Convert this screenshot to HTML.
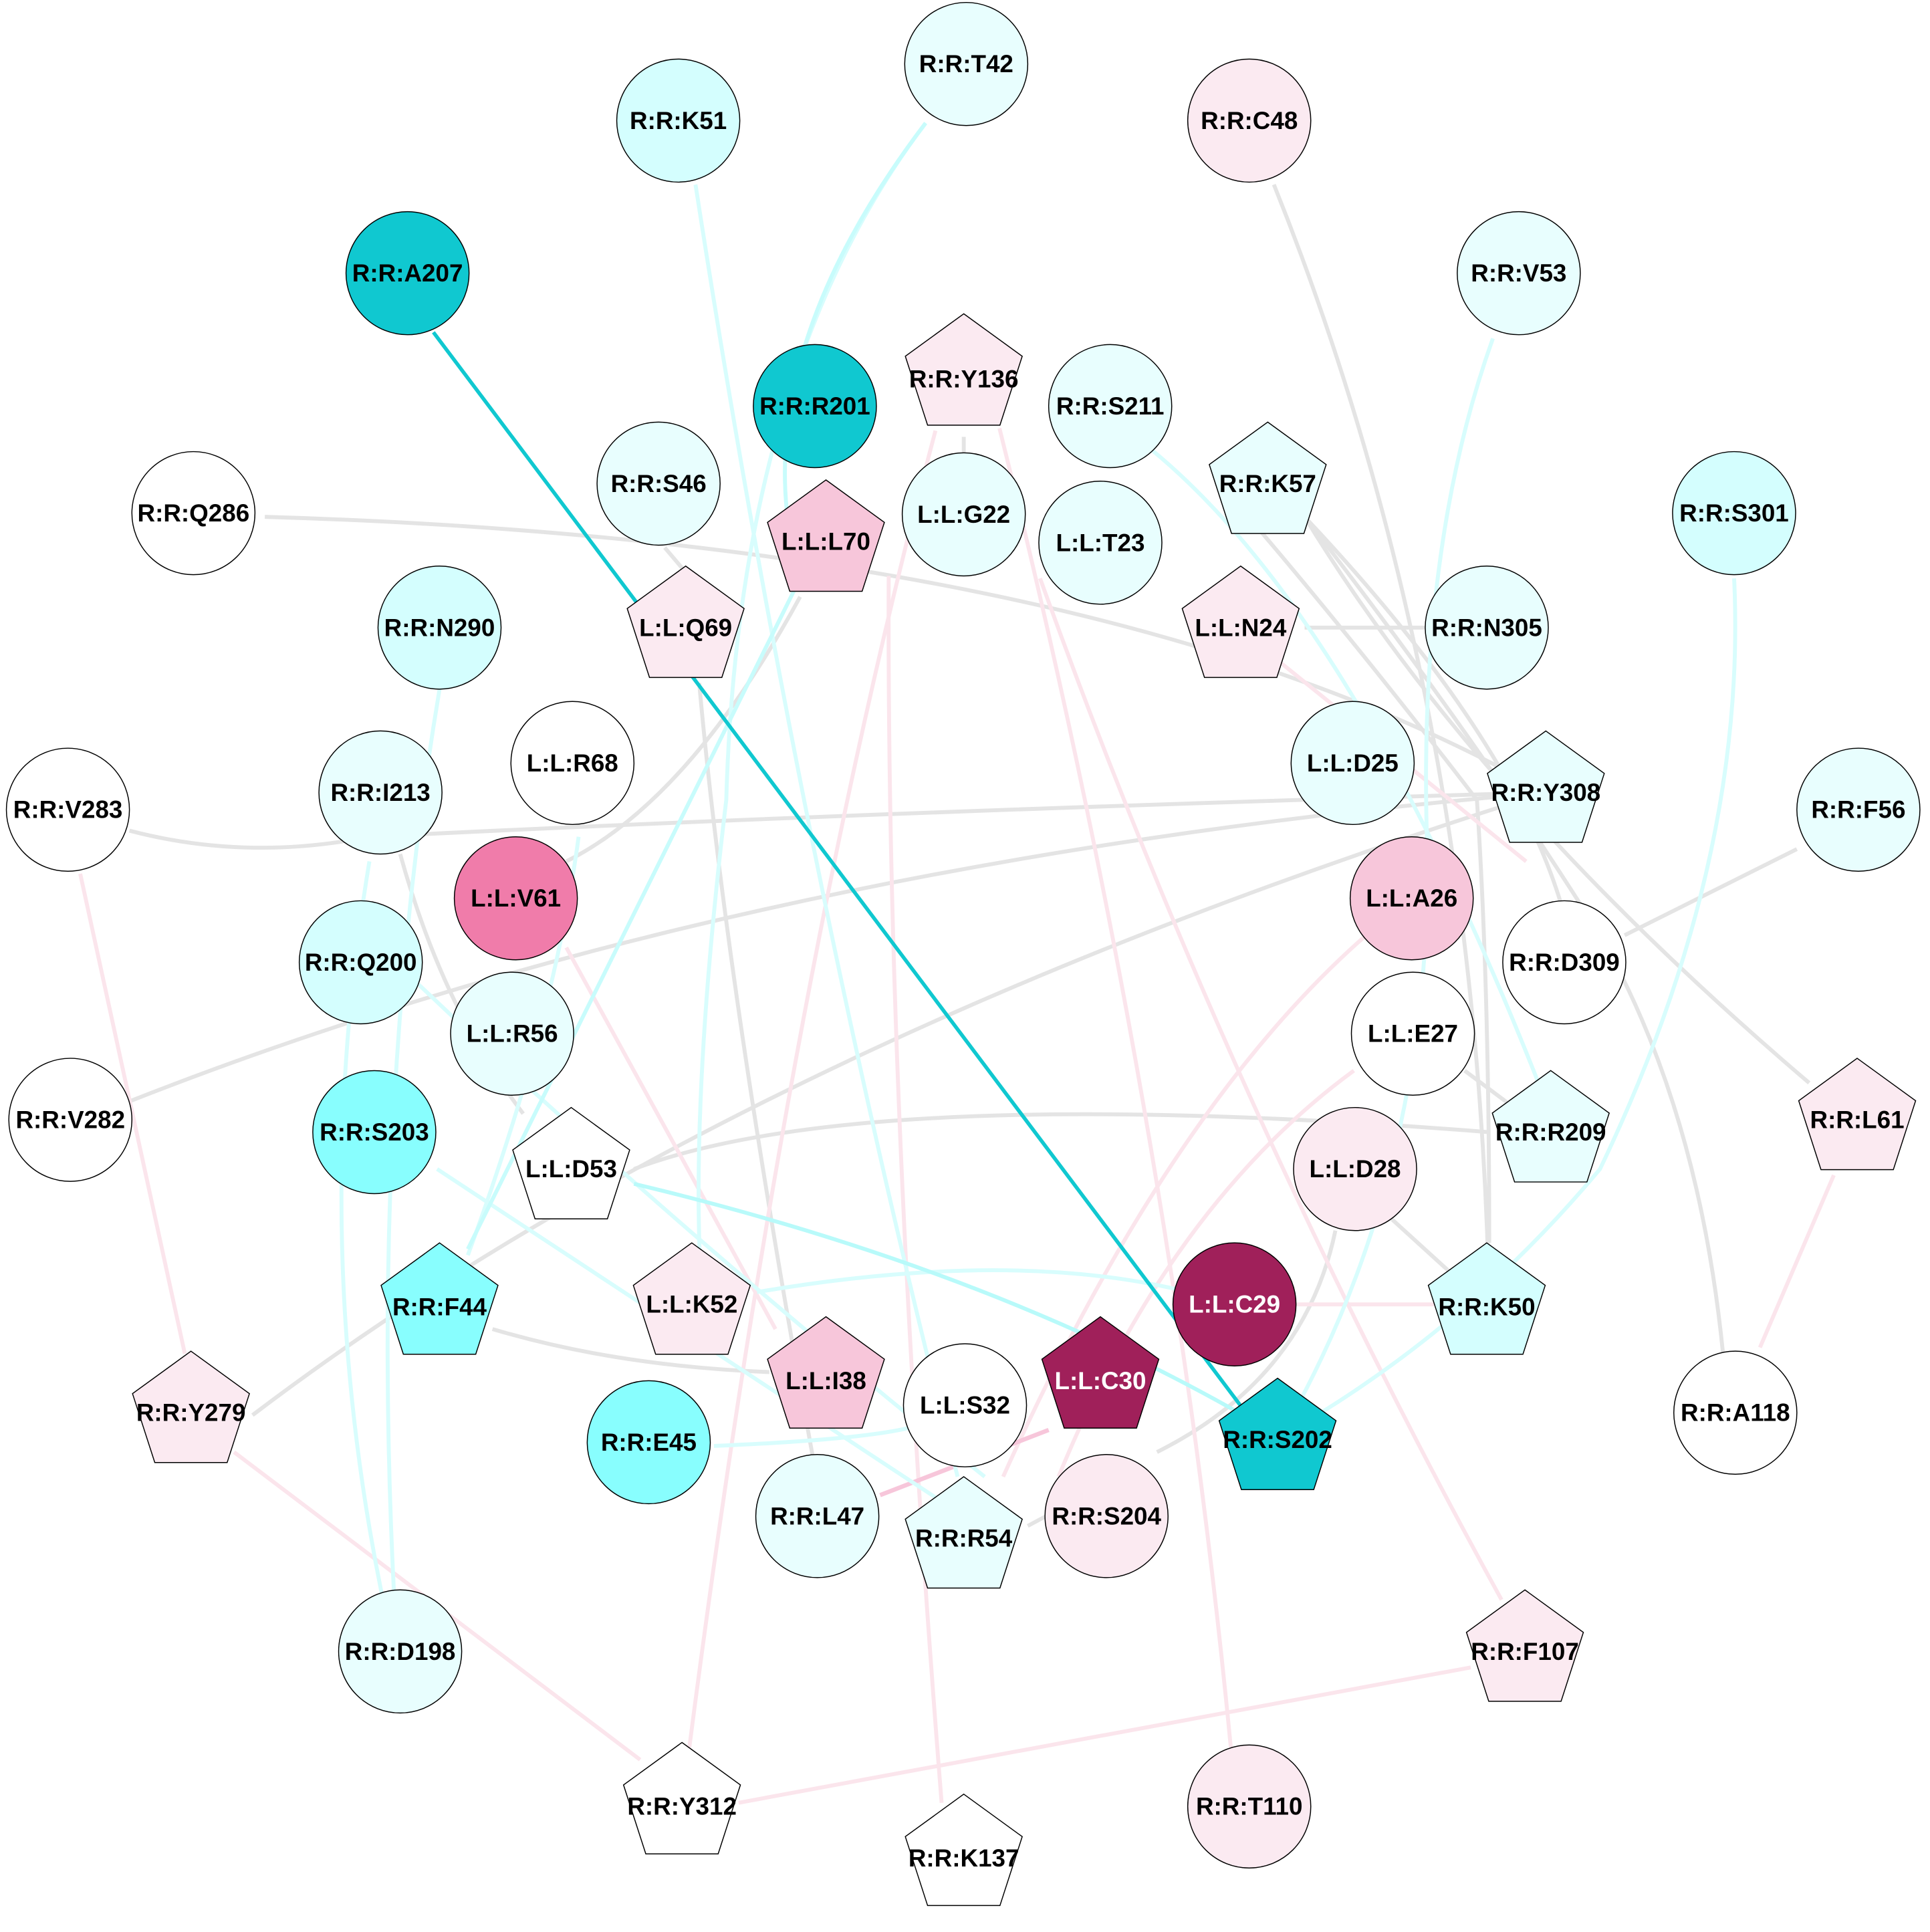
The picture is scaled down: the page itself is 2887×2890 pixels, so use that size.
<!DOCTYPE html>
<html><head><meta charset="utf-8"><style>html,body{margin:0;padding:0;background:#fff}svg{display:block}</style></head>
<body>
<svg width="2887" height="2890" viewBox="0 0 1568 1570" xmlns="http://www.w3.org/2000/svg">
<defs>
<g id="pent"><polygon points="0,-50 47.5,-15.5 29.4,40.5 -29.4,40.5 -47.5,-15.5" stroke="#000" stroke-width="0.8"/></g>
</defs>
<g fill="none" stroke-width="3.2">
<!-- gray edges -->
<g stroke="#e4e4e4">
<path d="M215,420 Q900,440 1256,644"/>
<path d="M105,675 Q200,700 300,680 Q700,660 1256,644"/>
<path d="M105,895 Q600,700 1256,644"/>
<path d="M205,1150 Q600,850 1256,644"/>
<path d="M1035,150 Q1200,560 1210,1060"/>
<path d="M1060,420 Q1200,600 1300,760 Q1380,900 1400,1100"/>
<path d="M1060,420 Q1230,600 1270,740"/>
<path d="M1060,420 Q1200,650 1470,880"/>
<path d="M1060,510 L1160,510"/>
<path d="M1460,690 L1320,760"/>
<path d="M515,950 Q700,880 1210,920"/>
<path d="M1190,870 L1230,900"/>
<path d="M1130,990 L1185,1040"/>
<path d="M1010,415 Q1100,520 1200,650 Q1210,800 1210,1010"/>
<path d="M400,1080 Q500,1110 625,1115"/>
<path d="M568,555 Q590,800 660,1182"/>
<path d="M540,445 L557,465"/>
<path d="M650,485 Q560,650 460,700"/>
<path d="M783,355 L783,368"/>
<path d="M325,694 Q360,820 425,905"/>
<path d="M1085,1000 Q1060,1120 940,1180"/>
<path d="M835,1240 L850,1232"/>
</g>
<!-- pink edges -->
<g stroke="#fbe5ec">
<path d="M760,350 Q640,800 560,1420"/>
<path d="M722,468 Q720,900 765,1465"/>
<path d="M812,348 Q950,900 1000,1420"/>
<path d="M845,470 Q1000,900 1220,1300"/>
<path d="M1030,530 L1240,700"/>
<path d="M460,770 L630,1080"/>
<path d="M65,710 L150,1100"/>
<path d="M190,1180 L520,1430"/>
<path d="M600,1465 L1195,1355"/>
<path d="M1490,955 L1430,1095"/>
<path d="M1110,760 Q950,900 815,1200"/>
<path d="M1050,1060 L1165,1060"/>
<path d="M1100,870 Q950,980 860,1200"/>
</g>
<path d="M852,1162 L715,1215" stroke="#f7c6da" stroke-width="3.5"/>
<!-- light cyan edges -->
<g stroke="#d8fdfd">
<path d="M752,100 Q600,300 590,650 Q560,900 570,1050"/>
<path d="M565,150 Q650,700 778,1200"/>
<path d="M1213,275 Q1150,450 1160,700 Q1160,950 1050,1150"/>
<path d="M1409,470 Q1420,700 1300,950 Q1200,1070 1070,1150"/>
<path d="M357,560 Q300,900 320,1295"/>
<path d="M300,700 Q250,1000 310,1295"/>
<path d="M470,680 Q450,830 380,1020"/>
<path d="M355,950 L780,1230"/>
<path d="M340,800 Q550,1000 800,1200"/>
<path d="M580,1175 Q700,1170 740,1160"/>
<path d="M615,1050 Q850,1010 1000,1060"/>
<path d="M935,365 Q1100,500 1250,880"/>
</g>
<path d="M515,962 Q800,1030 1010,1150" stroke="#b8fafa"/>
<path d="M752,100 Q600,300 650,470 Q560,650 380,1015" stroke="#c8fcfc"/>
<path d="M352,270 L1010,1145" stroke="#10c8d0" stroke-width="3"/>
</g>
<g stroke="#000" stroke-width="0.8">
<circle cx="785" cy="52" r="50" fill="#e8fefe"/>
<circle cx="551" cy="98" r="50" fill="#d4fefe"/>
<circle cx="1015" cy="98" r="50" fill="#fbeaf1"/>
<circle cx="331" cy="222" r="50" fill="#10c8d0"/>
<circle cx="1234" cy="222" r="50" fill="#e8fefe"/>
<circle cx="662" cy="330" r="50" fill="#10c8d0"/>
<circle cx="902" cy="330" r="50" fill="#e8fefe"/>
<circle cx="535" cy="393" r="50" fill="#e8fefe"/>
<circle cx="157" cy="417" r="50" fill="#fff"/>
<circle cx="783" cy="418" r="50" fill="#e8fefe"/>
<circle cx="894" cy="441" r="50" fill="#e8fefe"/>
<circle cx="1409" cy="417" r="50" fill="#d4fefe"/>
<circle cx="357" cy="510" r="50" fill="#d4fefe"/>
<circle cx="1208" cy="510" r="50" fill="#e8fefe"/>
<circle cx="465" cy="620" r="50" fill="#fff"/>
<circle cx="309" cy="644" r="50" fill="#e8fefe"/>
<circle cx="1099" cy="620" r="50" fill="#e8fefe"/>
<circle cx="55" cy="658" r="50" fill="#fff"/>
<circle cx="1510" cy="658" r="50" fill="#e8fefe"/>
<circle cx="419" cy="730" r="50" fill="#f07caa"/>
<circle cx="1147" cy="730" r="50" fill="#f7c6da"/>
<circle cx="293" cy="782" r="50" fill="#d4fefe"/>
<circle cx="1271" cy="782" r="50" fill="#fff"/>
<circle cx="416" cy="840" r="50" fill="#e8fefe"/>
<circle cx="1148" cy="840" r="50" fill="#fff"/>
<circle cx="57" cy="910" r="50" fill="#fff"/>
<circle cx="304" cy="920" r="50" fill="#88fefe"/>
<circle cx="1101" cy="950" r="50" fill="#fbeaf1"/>
<circle cx="1003" cy="1060" r="50" fill="#a0205a"/>
<circle cx="784" cy="1142" r="50" fill="#fff"/>
<circle cx="527" cy="1172" r="50" fill="#88fefe"/>
<circle cx="1410" cy="1148" r="50" fill="#fff"/>
<circle cx="664" cy="1232" r="50" fill="#e8fefe"/>
<circle cx="899" cy="1232" r="50" fill="#fbeaf1"/>
<circle cx="325" cy="1342" r="50" fill="#e8fefe"/>
<circle cx="1015" cy="1468" r="50" fill="#fbeaf1"/>
</g>
<use href="#pent" x="783" y="305" fill="#fbeaf1"/>
<use href="#pent" x="1030" y="393" fill="#e8fefe"/>
<use href="#pent" x="671" y="440" fill="#f7c6da"/>
<use href="#pent" x="557" y="510" fill="#fbeaf1"/>
<use href="#pent" x="1008" y="510" fill="#fbeaf1"/>
<use href="#pent" x="1256" y="644" fill="#e8fefe"/>
<use href="#pent" x="464" y="950" fill="#fff"/>
<use href="#pent" x="1260" y="920" fill="#e8fefe"/>
<use href="#pent" x="1509" y="910" fill="#fbeaf1"/>
<use href="#pent" x="357" y="1060" fill="#88fefe"/>
<use href="#pent" x="562" y="1060" fill="#fbeaf1"/>
<use href="#pent" x="1208" y="1060" fill="#d4fefe"/>
<use href="#pent" x="671" y="1120" fill="#f7c6da"/>
<use href="#pent" x="894" y="1120" fill="#a0205a"/>
<use href="#pent" x="155" y="1148" fill="#fbeaf1"/>
<use href="#pent" x="1038" y="1170" fill="#10c8d0"/>
<use href="#pent" x="783" y="1250" fill="#e8fefe"/>
<use href="#pent" x="1239" y="1342" fill="#fbeaf1"/>
<use href="#pent" x="554" y="1466" fill="#fff"/>
<use href="#pent" x="783" y="1508" fill="#fff"/>
<g font-family="Liberation Sans, sans-serif" font-weight="bold" font-size="20" text-anchor="middle" dominant-baseline="central" fill="#000">
<text x="785" y="52">R:R:T42</text>
<text x="551" y="98">R:R:K51</text>
<text x="1015" y="98">R:R:C48</text>
<text x="331" y="222">R:R:A207</text>
<text x="1234" y="222">R:R:V53</text>
<text x="662" y="330">R:R:R201</text>
<text x="902" y="330">R:R:S211</text>
<text x="535" y="393">R:R:S46</text>
<text x="157" y="417">R:R:Q286</text>
<text x="783" y="418">L:L:G22</text>
<text x="894" y="441">L:L:T23</text>
<text x="1409" y="417">R:R:S301</text>
<text x="357" y="510">R:R:N290</text>
<text x="1208" y="510">R:R:N305</text>
<text x="465" y="620">L:L:R68</text>
<text x="309" y="644">R:R:I213</text>
<text x="1099" y="620">L:L:D25</text>
<text x="55" y="658">R:R:V283</text>
<text x="1510" y="658">R:R:F56</text>
<text x="419" y="730">L:L:V61</text>
<text x="1147" y="730">L:L:A26</text>
<text x="293" y="782">R:R:Q200</text>
<text x="1271" y="782">R:R:D309</text>
<text x="416" y="840">L:L:R56</text>
<text x="1148" y="840">L:L:E27</text>
<text x="57" y="910">R:R:V282</text>
<text x="304" y="920">R:R:S203</text>
<text x="1101" y="950">L:L:D28</text>
<text x="1003" y="1060" fill="#fff">L:L:C29</text>
<text x="784" y="1142">L:L:S32</text>
<text x="527" y="1172">R:R:E45</text>
<text x="1410" y="1148">R:R:A118</text>
<text x="664" y="1232">R:R:L47</text>
<text x="899" y="1232">R:R:S204</text>
<text x="325" y="1342">R:R:D198</text>
<text x="1015" y="1468">R:R:T110</text>
<text x="783" y="308">R:R:Y136</text>
<text x="1030" y="393">R:R:K57</text>
<text x="671" y="440">L:L:L70</text>
<text x="557" y="510">L:L:Q69</text>
<text x="1008" y="510">L:L:N24</text>
<text x="1256" y="644">R:R:Y308</text>
<text x="464" y="950">L:L:D53</text>
<text x="1260" y="920">R:R:R209</text>
<text x="1509" y="910">R:R:L61</text>
<text x="357" y="1062">R:R:F44</text>
<text x="562" y="1060">L:L:K52</text>
<text x="1208" y="1062">R:R:K50</text>
<text x="671" y="1122">L:L:I38</text>
<text x="894" y="1122" fill="#fff">L:L:C30</text>
<text x="155" y="1148">R:R:Y279</text>
<text x="1038" y="1170">R:R:S202</text>
<text x="783" y="1250">R:R:R54</text>
<text x="1239" y="1342">R:R:F107</text>
<text x="554" y="1468">R:R:Y312</text>
<text x="783" y="1510">R:R:K137</text>
</g>
</svg>
</body></html>
